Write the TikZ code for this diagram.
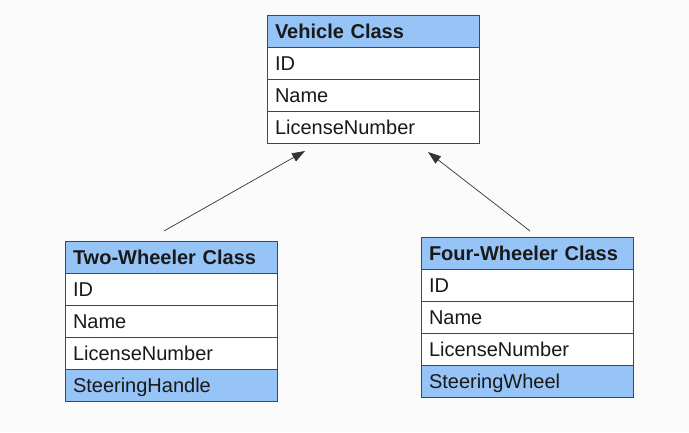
\documentclass[tikz,border=0pt]{standalone}
\usepackage{fontspec}
\setmainfont{Liberation Sans}
\usetikzlibrary{arrows.meta}
\definecolor{hdrblue}{RGB}{150,196,247}
\definecolor{boxline}{RGB}{70,70,70}
\definecolor{bgpaper}{RGB}{251,251,251}

\begin{document}
\begin{tikzpicture}[x=1pt,y=-1pt,
  row/.style={shape=rectangle,draw=boxline,line width=0.9pt,fill=white,anchor=north west,
    outer sep=0pt,inner xsep=8pt,inner ysep=0pt,text width=196pt,minimum height=32pt,
    text height=14.5pt,text depth=0pt,align=left,font=\fontsize{20}{24}\selectfont,text=black!90},
  rowB/.style={row,fill=hdrblue},
  rowH/.style={rowB,font=\fontsize{20}{24}\selectfont\bfseries},
  inherit/.style={draw=black!80,line width=0.7pt,-{Triangle[length=13pt,width=9pt]}}]
\def\rh{32};
\def\vx{267};
\def\vy{15};
\def\tx{65};
\def\ty{241};
\def\fx{421};
\def\fy{237};

\useasboundingbox[fill=bgpaper] (0,0) rectangle (689,432);

\node[rowH] (V) at (\vx,\vy) {Vehicle Class};
\node[row] (Vid) at (\vx,\vy+\rh) {ID};
\node[row] (Vname) at (\vx,\vy+2*\rh) {Name};
\node[row] (Vlic) at (\vx,\vy+3*\rh) {LicenseNumber};

\node[rowH] (T) at (\tx,\ty) {Two-Wheeler Class};
\node[row] (Tid) at (\tx,\ty+\rh) {ID};
\node[row] (Tname) at (\tx,\ty+2*\rh) {Name};
\node[row] (Tlic) at (\tx,\ty+3*\rh) {LicenseNumber};
\node[rowB] (Tsteer) at (\tx,\ty+4*\rh) {SteeringHandle};

\node[rowH] (F) at (\fx,\fy) {Four-Wheeler Class};
\node[row] (Fid) at (\fx,\fy+\rh) {ID};
\node[row] (Fname) at (\fx,\fy+2*\rh) {Name};
\node[row] (Flic) at (\fx,\fy+3*\rh) {LicenseNumber};
\node[rowB] (Fsteer) at (\fx,\fy+4*\rh) {SteeringWheel};

\draw[inherit] ([xshift=-7pt,yshift=10pt]T.north) -- ([xshift=38pt,yshift=-8pt]Vlic.south west);
\draw[inherit] ([xshift=3pt,yshift=6pt]F.north) -- ([xshift=-51pt,yshift=-9pt]Vlic.south east);
\end{tikzpicture}
\end{document}
